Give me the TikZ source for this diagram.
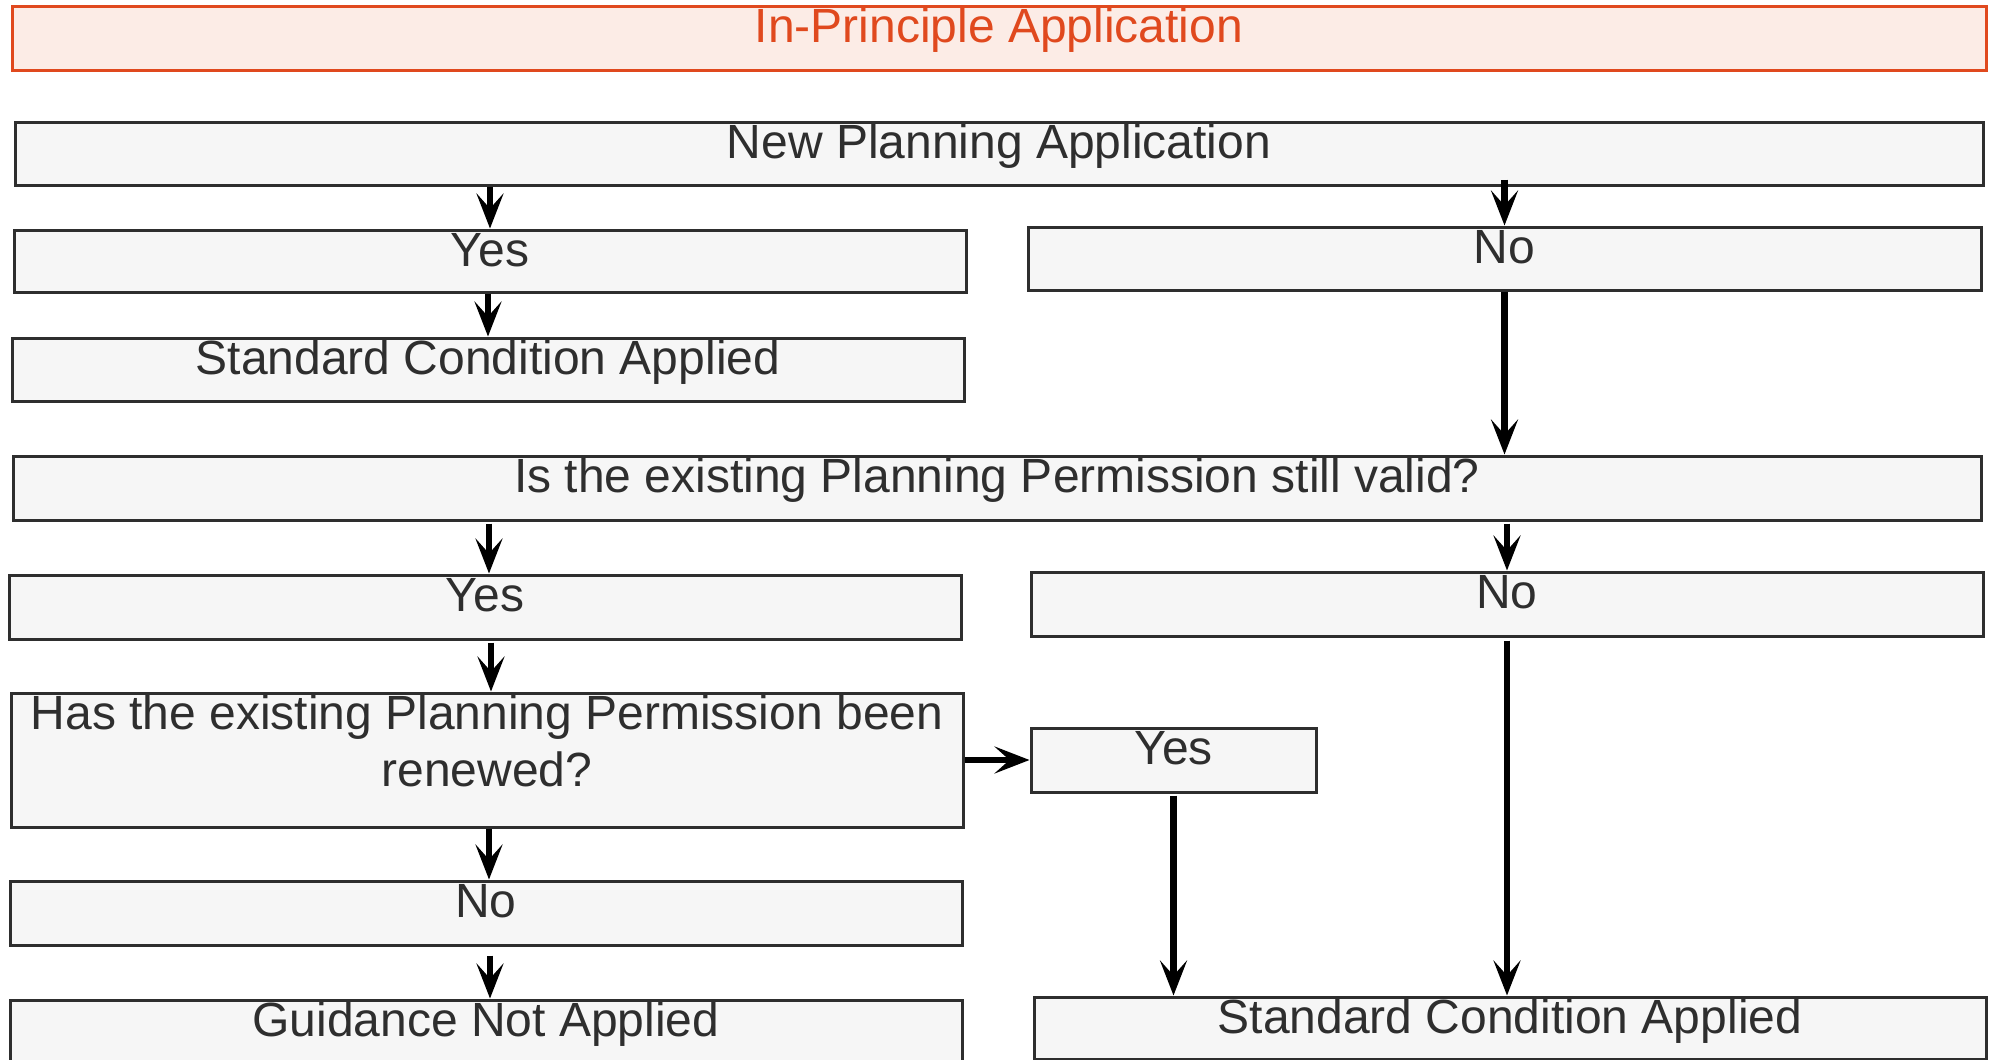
\documentclass[tikz,border=0pt]{standalone}
\usepackage{fontspec}
\setmainfont{Liberation Sans}
\usetikzlibrary{arrows.meta}
\definecolor{boxfill}{HTML}{F6F6F6}
\definecolor{boxline}{HTML}{2E2E2E}
\definecolor{titlefill}{HTML}{FCECE6}
\definecolor{titleline}{HTML}{E0491E}
\begin{document}
\begin{tikzpicture}[x=0.5pt,y=-0.5pt,
  flowbox/.style={draw=boxline, fill=boxfill, text=boxline, line width=1.5pt,
    inner sep=0pt, font=\fontsize{24}{28.5}\selectfont, text height=18pt},
  titlebox/.style={flowbox, draw=titleline, fill=titlefill, text=titleline},
  arr/.style={-{Stealth[length=17.5pt,width=13.5pt,inset=7.5pt]}, line width=3.25pt, black}]
\useasboundingbox (0,0) rectangle (1993,1060);

\node[titlebox, minimum width=987pt, minimum height=32pt, text depth=14pt] (title) at (999,38) {In-Principle Application};

\node[flowbox, minimum width=984pt, minimum height=31.5pt, text depth=13.5pt] (np) at (999,153.5) {New Planning Application};
\node[flowbox, minimum width=476pt, minimum height=31pt, text depth=13pt] (yes1) at (490,261) {Yes};
\node[flowbox, minimum width=476.5pt, minimum height=31.5pt, text depth=13.5pt] (no1) at (1504.5,258.5) {No};
\node[flowbox, minimum width=476pt, minimum height=31.5pt, text depth=13.5pt] (std1) at (488,369.5) {Standard Condition Applied};
\node[flowbox, minimum width=984pt, minimum height=32pt, text depth=14pt] (isv) at (997,488) {Is the existing Planning Permission still valid?};
\node[flowbox, minimum width=476pt, minimum height=32pt, text depth=14pt] (yes2) at (485,607) {Yes};
\node[flowbox, minimum width=476pt, minimum height=32pt, text depth=14pt] (no2) at (1507,604) {No};
\node[flowbox, minimum width=476pt, minimum height=67pt, text depth=49pt] (has) at (487,760)
  {\begin{tabular}[t]{@{}c@{}}Has the existing Planning Permission been\\renewed?\end{tabular}};
\node[flowbox, minimum width=142.5pt, minimum height=32pt, text depth=14pt] (yes3) at (1173.5,760) {Yes};
\node[flowbox, minimum width=476pt, minimum height=32pt, text depth=14pt] (no3) at (486,913) {No};
\node[flowbox, minimum width=476pt, minimum height=32pt, text depth=14pt] (guid) at (486,1032) {Guidance Not Applied};
\node[flowbox, minimum width=476pt, minimum height=31pt, text depth=13pt] (std2) at (1510,1028) {Standard Condition Applied};

\draw[arr] (np.south -| yes1.north) -- (yes1.north);
\draw[arr, shorten <=-3.5pt] (np.south -| no1.north) -- (no1.north);
\draw[arr] (yes1.south -| std1.north) -- (std1.north);
\draw[arr] (no1.south) -- (no1.south |- isv.north);
\draw[arr, shorten <=1pt] ([xshift=2pt]isv.south -| yes2.north) -- ([xshift=2pt]yes2.north);
\draw[arr, shorten <=1pt] (isv.south -| no2.north) -- (no2.north);
\draw[arr, shorten <=1pt] ([xshift=2pt]yes2.south -| has.north) -- ([xshift=2pt]has.north);
\draw[arr] (has.east) -- (yes3.west);
\draw[arr] ([xshift=1.5pt]has.south -| no3.north) -- ([xshift=1.5pt]no3.north);
\draw[arr, shorten <=4.5pt] ([xshift=2pt]no3.south -| guid.north) -- ([xshift=2pt]guid.north);
\draw[arr, shorten <=1pt] (yes3.south) -- (yes3.south |- std2.north);
\draw[arr, shorten <=1.5pt] (no2.south) -- (no2.south |- std2.north);
\end{tikzpicture}
\end{document}
